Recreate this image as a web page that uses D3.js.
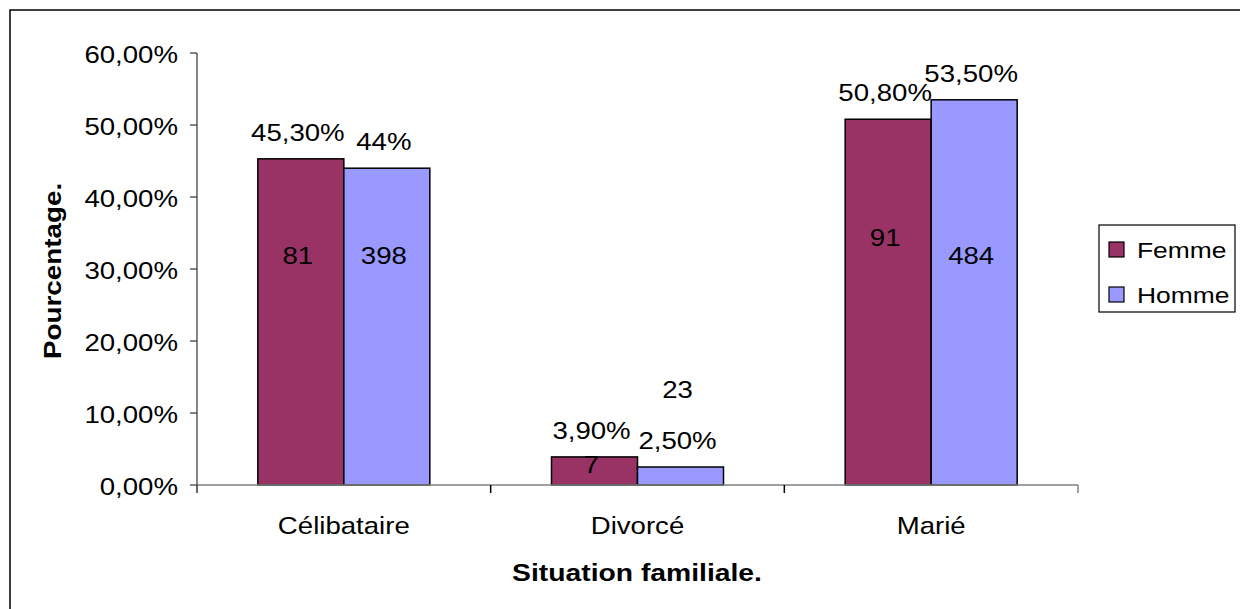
<!DOCTYPE html>
<html>
<head>
<meta charset="utf-8">
<script src="https://cdn.jsdelivr.net/npm/d3@7"></script>
<style>
  html, body { margin: 0; padding: 0; background: #fff; }
  svg { display: block; }
  text { font-family: "Liberation Sans", Arial, sans-serif; fill: #000; }
</style>
</head>
<body>
<svg id="chart" width="1240" height="609"></svg>
<script>
// ---- data ----
const categories = ["Célibataire", "Divorcé", "Marié"];
const seriesNames = ["Femme", "Homme"];
const femmeValues = [45.3, 3.9, 50.8];
const hommeValues = [44.0, 2.5, 53.5];
const femmeLabels = ["45,30%", "3,90%", "50,80%"];
const hommeLabels = ["44%", "2,50%", "53,50%"];
const femmeCounts = ["81", "7", "91"];
const hommeCounts = ["398", "23", "484"];
const femmeCountAt = [32.0, 2.9, 34.5];
const hommeCountAt = [32.0, 13.3, 32.0];
const yTicks = [0, 10, 20, 30, 40, 50, 60];
const yTitle = "Pourcentage.";
const xTitle = "Situation familiale.";

const colors = { Femme: "#993366", Homme: "#9999FF" };
const SX = 1.15;

const svg = d3.select("#chart");

// outer frame (extends past the viewport right/bottom)
svg.append("rect").attr("x", 10).attr("y", 10).attr("width", 1260).attr("height", 640)
  .attr("fill", "none").attr("stroke", "#000").attr("stroke-width", 1.5);

const plot = { left: 197, right: 1078, top: 53, bottom: 485 };
const y = d3.scaleLinear().domain([0, 60]).range([plot.bottom, plot.top]);
const x = d3.scaleBand().domain(categories).range([plot.left, plot.right]);
const barW = 86;
const xs = d3.scaleBand().domain(seriesNames).range([0, barW * 2]);

function stext(parent, px, py, str, opts = {}) {
  const g = parent.append("g")
    .attr("transform", `translate(${px},${py}) ${opts.rotate ? "rotate(" + opts.rotate + ")" : ""} scale(${opts.sx || SX},1)`);
  g.append("text")
    .attr("x", 0).attr("y", 0)
    .attr("text-anchor", opts.anchor || "middle")
    .attr("font-size", opts.size || 24)
    .attr("font-weight", opts.bold ? "bold" : "normal")
    .text(str);
  return g;
}

// y axis
svg.append("line").attr("x1", plot.left).attr("x2", plot.left)
  .attr("y1", y(60)).attr("y2", y(0)).attr("stroke", "#333").attr("stroke-width", 1.2);
yTicks.forEach(t => {
  svg.append("line").attr("x1", plot.left - 7).attr("x2", plot.left)
    .attr("y1", y(t)).attr("y2", y(t)).attr("stroke", "#333").attr("stroke-width", 1.2);
  stext(svg, 178, y(t) + 10, d3.format(".2f")(t).replace(".", ",") + "%", { anchor: "end" });
});

// bars
const series = [
  { name: "Femme", values: femmeValues, labels: femmeLabels, counts: femmeCounts, countAt: femmeCountAt },
  { name: "Homme", values: hommeValues, labels: hommeLabels, counts: hommeCounts, countAt: hommeCountAt }
];
series.forEach(s => {
  categories.forEach((c, i) => {
    const bx = x(c) + x.bandwidth() / 2 - barW + xs(s.name);
    svg.append("rect")
      .attr("x", bx).attr("y", y(s.values[i]))
      .attr("width", xs.bandwidth()).attr("height", y(0) - y(s.values[i]))
      .attr("fill", colors[s.name]).attr("stroke", "#000").attr("stroke-width", 1.5);
  });
});

// x axis
svg.append("line").attr("x1", plot.left).attr("x2", plot.right)
  .attr("y1", plot.bottom).attr("y2", plot.bottom).attr("stroke", "#808080").attr("stroke-width", 1.5);
[plot.left, ...categories.map(c => x(c) + x.bandwidth())].forEach(px => {
  svg.append("line").attr("x1", px).attr("x2", px)
    .attr("y1", plot.bottom).attr("y2", plot.bottom + 8).attr("stroke", px === plot.left ? "#333" : (px === plot.right ? "#808080" : "#000")).attr("stroke-width", 1.5);
});
categories.forEach(c => {
  stext(svg, x(c) + x.bandwidth() / 2, 534, c);
});

// data labels
series.forEach(s => {
  categories.forEach((c, i) => {
    const cx = x(c) + x.bandwidth() / 2 - barW + xs(s.name) + xs.bandwidth() / 2 - 3;
    stext(svg, cx, y(s.values[i]) - 18, s.labels[i]);
    stext(svg, cx, y(s.countAt[i]) + 9, s.counts[i]);
  });
});

// axis titles
stext(svg, 637, 581, xTitle, { size: 23, bold: true, sx: 1.23 });
stext(svg, 61, 271, yTitle, { size: 23, bold: true, rotate: -90, sx: 1.21 });

// legend
const lg = svg.append("g");
lg.append("rect").attr("x", 1099).attr("y", 225).attr("width", 136).attr("height", 87)
  .attr("fill", "#fff").attr("stroke", "#000").attr("stroke-width", 1.2);
seriesNames.forEach((n, i) => {
  const ly = 242 + i * 45;
  lg.append("rect").attr("x", 1109).attr("y", ly).attr("width", 15).attr("height", 15)
    .attr("fill", colors[n]).attr("stroke", "#000").attr("stroke-width", 1.2);
  stext(lg, 1137, ly + 16, n, { size: 22, anchor: "start", sx: 1.2 });
});
</script>
</body>
</html>
